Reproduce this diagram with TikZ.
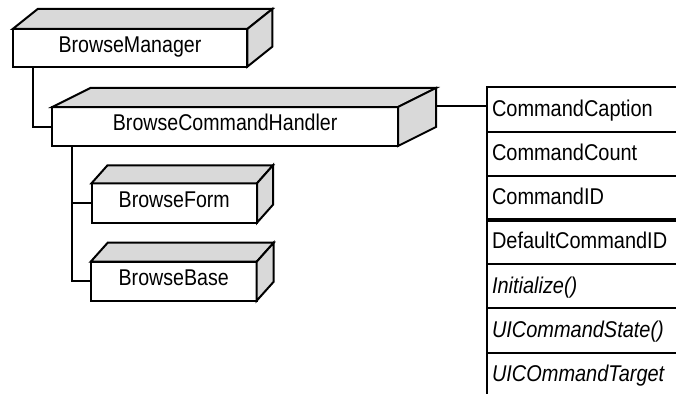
\documentclass[tikz,border=0pt]{standalone}
\usepackage{fontspec}
\setmainfont{Liberation Sans}
\newfontfamily\boxfont[FakeStretch=0.86]{Liberation Sans}
\newfontfamily\rowfont[FakeStretch=0.875]{Liberation Sans}
\definecolor{sidegray}{gray}{0.85}

% top and right faces of a box whose front face is node #1, depth (#2,#3)
\newcommand\cubefaces[3]{%
  \filldraw[side] (#1.north west) -- ++(#2,#3) -- ([shift={(#2,#3)}]#1.north east) -- (#1.north east) -- cycle;
  \filldraw[side] (#1.north east) -- ++(#2,#3) -- ([shift={(#2,#3)}]#1.south east) -- (#1.south east) -- cycle;}

\begin{document}
\begin{tikzpicture}[x=1pt,y=-1pt,
  front/.style={draw, line width=2pt, fill=white, outer sep=0pt, inner sep=0pt,
    font=\boxfont\fontsize{22.8}{26}\selectfont, text height=15.7pt, text depth=7pt},
  side/.style={draw=black, line width=2pt, fill=sidegray},
  link/.style={line width=2pt},
  member/.style={draw, line width=2pt, outer sep=0pt, inner xsep=5.3pt, inner ysep=0pt,
    minimum height=44.2pt, text width=209.4pt, align=left, anchor=north west,
    font=\rowfont\fontsize{22.8}{26}\selectfont, text height=15.7pt, text depth=2pt}]
\useasboundingbox (0,0) rectangle (676,393);
\clip (0,0) rectangle (676,393);

% class boxes
\node[front, minimum width=234.6pt, minimum height=37.7pt] (mgr) at (130,47.85) {BrowseManager};
\cubefaces{mgr}{25}{-20}
\node[front, minimum width=345.7pt, minimum height=39pt] (hdl) at (225.15,126.5) {BrowseCommandHandler};
\cubefaces{hdl}{38}{-19}
\node[front, minimum width=165.5pt, minimum height=39.4pt] (form) at (174.25,203) {BrowseForm};
\cubefaces{form}{16}{-18}
\node[front, minimum width=166pt, minimum height=39pt] (base) at (173.7,281.2) {BrowseBase};
\cubefaces{base}{17}{-19}

% member list
\node[member] (r1) at (486.7,87.3) {CommandCaption};
\node[member] (r2) at (486.7,131.5) {CommandCount};
\node[member] (r3) at (486.7,175.7) {CommandID};
\node[member] (r4) at (486.7,219.9) {DefaultCommandID};
\node[member] (r5) at (486.7,264.1) {\itshape Initialize()};
\node[member] (r6) at (486.7,308.3) {\itshape UICommandState()};
\node[member] (r7) at (486.7,352.5) {\itshape UICOmmandTarget};
\draw[line width=4pt] (r4.north west) -- (r4.north east);

% connectors
\coordinate (mgrdrop) at ([xshift=20.6pt]mgr.south west);
\draw[link] (mgrdrop) |- (hdl.west);
\coordinate (hdldrop) at ([xshift=19.4pt]hdl.south west);
\draw[link] (hdldrop) |- (base.west);
\draw[link] (form.west) -- (form.west -| hdldrop);
\coordinate (hdlport) at ([shift={(38,-21)}]hdl.east);
\draw[link] (hdlport) -- (hdlport -| r1.west);
\end{tikzpicture}
\end{document}
